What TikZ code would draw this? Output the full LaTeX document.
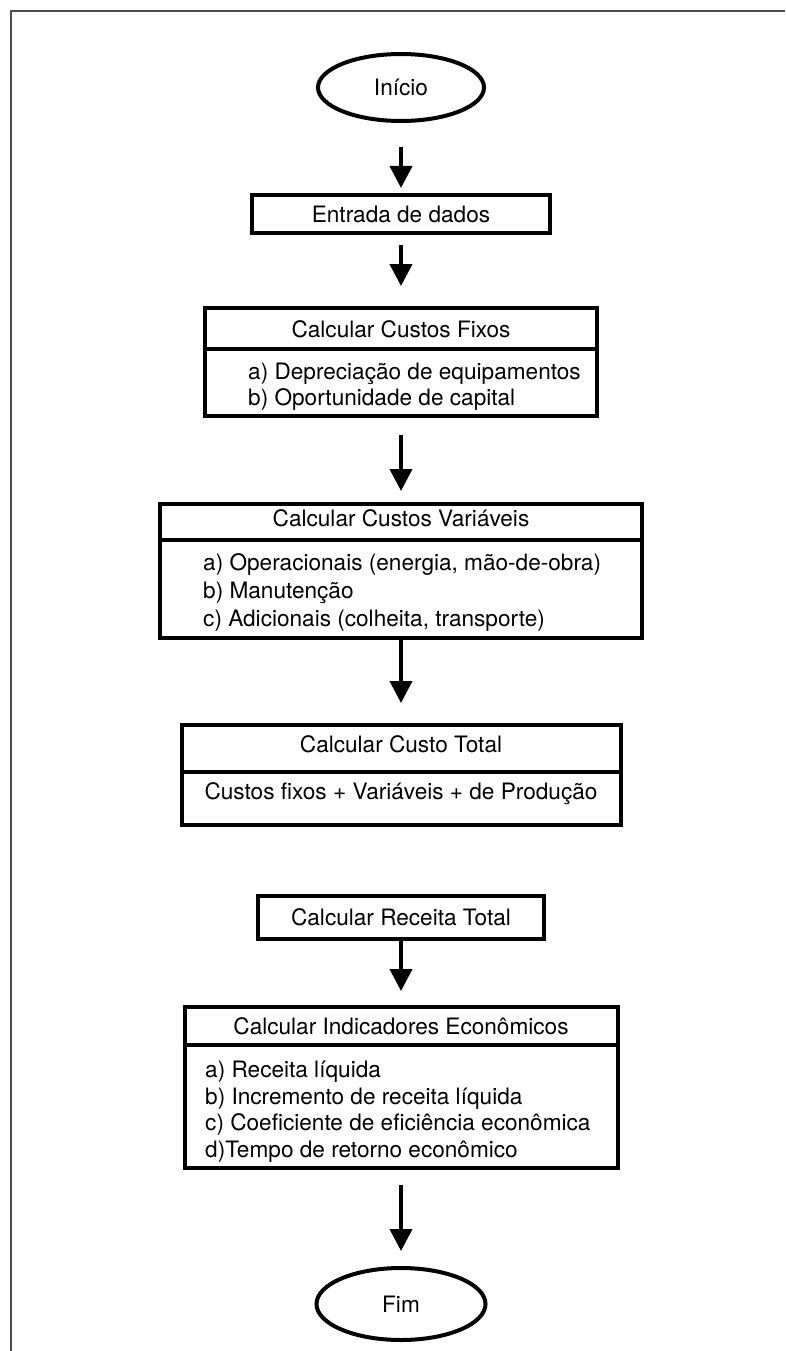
\documentclass[tikz,border=0pt]{standalone}
\usepackage{fontspec}
\setmainfont{TeX Gyre Heros}
\usetikzlibrary{arrows.meta,shapes.geometric}
\begin{document}
\begin{tikzpicture}[x=1pt,y=1pt,
  every node/.style={font=\fontsize{22.6}{27}\selectfont},
  stepbox/.style={draw, rectangle, line width=4pt, inner sep=0pt},
  termnode/.style={draw, ellipse, line width=4pt, inner sep=0pt},
  flow/.style={line width=4pt, -{Triangle[width=22pt,length=22pt]}},
  divline/.style={line width=3.5pt},
  lbl/.style={anchor=base, inner sep=0pt},
  item/.style={anchor=base west, inner sep=0pt},
  frame/.style={line width=2pt, draw=black!70}]
\useasboundingbox (0,0) rectangle (785,-1351);
% frame
\coordinate (fb) at (10.5,-1351);
\coordinate (fc) at (10.5,-11);
\coordinate (fr) at (785,-11);
\draw[frame] (fb) -- (fc) -- (fr);

\node[termnode, minimum width=166pt, minimum height=67pt] (ini) at (401,-87.5) {Início};
\node[stepbox, minimum width=298pt, minimum height=38pt] (ent) at (401,-214) {Entrada de dados};

\node[stepbox, minimum width=392pt, minimum height=108pt] (cf) at (401,-362) {};
\node[lbl] (cft) at (401,-337.5) {Calcular Custos Fixos};
\draw[divline] (cf.west |- 0,-349) -- (cf.east |- 0,-349);
\node[item] (cfa) at (248,-379.5) {a) Depreciação de equipamentos};
\node[item] (cfb) at (248,-405.5) {b) Oportunidade de capital};

\node[stepbox, minimum width=482pt, minimum height=134pt] (cv) at (401,-571) {};
\node[lbl] (cvt) at (401,-526.5) {Calcular Custos Variáveis};
\draw[divline] (cv.west |- 0,-540) -- (cv.east |- 0,-540);
\node[item] (cva) at (203,-570) {a) Operacionais (energia, mão-de-obra)};
\node[item] (cvb) at (203,-598) {b) Manutenção};
\node[item] (cvc) at (203,-626) {c) Adicionais (colheita, transporte)};

\node[stepbox, minimum width=439pt, minimum height=100pt] (ct) at (401,-775) {};
\node[lbl] (ctt) at (401,-752.5) {Calcular Custo Total};
\draw[divline] (ct.west |- 0,-772) -- (ct.east |- 0,-772);
\node[lbl] (cta) at (401,-799.5) {Custos fixos + Variáveis + de Produção};

\node[stepbox, minimum width=286pt, minimum height=43pt] (rt) at (401,-917.5) {Calcular Receita Total};

\node[stepbox, minimum width=433pt, minimum height=161pt] (ind) at (401,-1087.5) {};
\node[lbl] (indt) at (401,-1034.5) {Calcular Indicadores Econômicos};
\draw[divline] (ind.west |- 0,-1045) -- (ind.east |- 0,-1045);
\node[item] (inda) at (205,-1077.5) {a) Receita líquida};
\node[item] (indb) at (205,-1104.5) {b) Incremento de receita líquida};
\node[item] (indc) at (205,-1130.5) {c) Coeficiente de eficiência econômica};
\node[item] (indd) at (205,-1157.5) {d)Tempo de retorno econômico};

\node[termnode, minimum width=169pt, minimum height=72pt] (fim) at (401,-1304) {Fim};

\draw[flow, shorten <=24pt, shorten >=5pt] (ini) -- (ent);
\draw[flow, shorten <=10pt, shorten >=20pt] (ent) -- (cf);
\draw[flow, shorten <=17pt, shorten >=11pt] (cf) -- (cv);
\draw[flow, shorten >=20pt] (cv) -- (ct);
\draw[flow, shorten >=14pt] (rt) -- (ind);
\draw[flow, shorten <=15pt, shorten >=15pt] (ind) -- (fim);
\end{tikzpicture}
\end{document}
